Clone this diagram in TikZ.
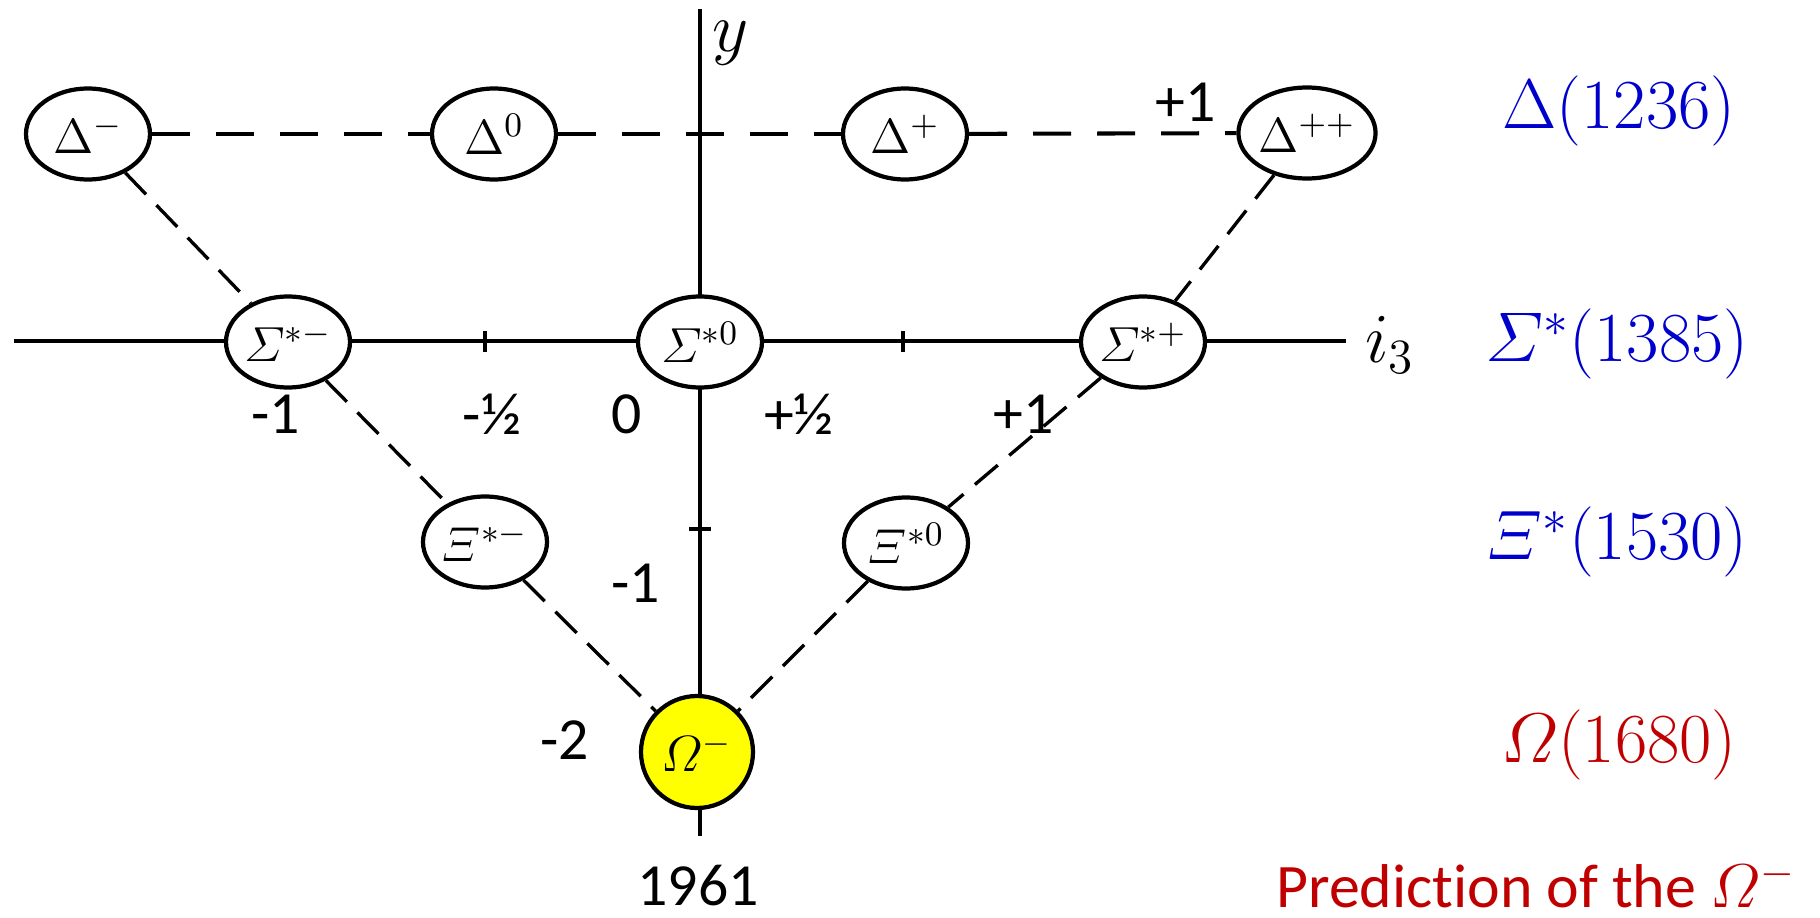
\RequirePackage{fix-cm}
\documentclass[tikz,border=0pt]{standalone}
\usepackage{amsmath}
\usepackage{fontspec}
\newfontfamily\calibri[Ligatures=NoCommon]{Carlito}
\usepackage{tikz}
\usetikzlibrary{
  shapes.geometric,
  backgrounds
}
\usepackage{xcolor}
\definecolor{cblue}{RGB}{0,0,204}
\definecolor{cred}{RGB}{192,0,0}
\definecolor{cyellow}{RGB}{255,255,0}
\tikzset{
  baryon/.style={
    ellipse, draw, fill=white, line width=1.2pt,
    minimum width=1.24cm, minimum height=0.91cm,
    inner sep=0pt, font=\fontsize{14}{16}\selectfont
  },
  omega/.style={
    circle, draw, fill=cyellow, line width=1.2pt,
    minimum size=1.12cm, inner sep=0pt,
    font=\fontsize{14.5}{16}\selectfont
  },
  axis/.style={line width=1.1pt},
  link/.style={line width=0.95pt, dash pattern=on 0.3cm off 0.15cm},
  linkH/.style={line width=1.15pt, dash pattern=on 0.38cm off 0.26cm},
  num/.style={font=\fontsize{17}{20}\selectfont\calibri, inner sep=0pt},
  mass/.style={font=\fontsize{20}{24}\selectfont, inner sep=0pt, text=#1},
  mass/.default=cblue
}

\begin{document}
\begin{tikzpicture}[x=1cm, y=-1cm]
  \useasboundingbox (0,0) rectangle (18.2,9.18);

    %% Decuplet states
    \node[baryon] (dm)  at (0.88,1.34)  {$\Delta^-$};
    \node[baryon] (d0)  at (4.94,1.34)  {$\Delta^0$};
    \node[baryon] (dp)  at (9.05,1.34)  {$\Delta^+$};
    \node[baryon] (dpp) at (13.07,1.33) {$\Delta^{++}$};
    \node[baryon] (sm)  at (2.88,3.42)  {$\varSigma^{*-}$};
    \node[baryon] (s0)  at (7.00,3.42)  {$\varSigma^{*0}$};
    \node[baryon] (sp)  at (11.43,3.42) {$\varSigma^{*+}$};
    \node[baryon] (xm)  at (4.85,5.42)  {$\varXi^{*-}$};
    \node[baryon] (x0)  at (9.06,5.43)  {$\varXi^{*0}$};
    \node[omega]  (om)  at (6.97,7.52)  {$\varOmega^-$};

    %% Axes (behind the states)
    \coordinate (xl) at (0.14,3.41);
    \coordinate (xr) at (13.46,3.41);
    \coordinate (yt) at (7.00,0.09);
    \coordinate (yb) at (7.00,8.36);
    \begin{scope}[on background layer]
      \draw[axis] (xl) -- (xr);
      \draw[axis] (yt) -- (yb);
      \foreach \x in {4.85,9.03}{
        \draw[axis] (\x,3.31) -- (\x,3.52);
      }
      \draw[axis] (6.89,5.29) -- (7.11,5.29);
    \end{scope}
    \node[font=\fontsize{20}{24}\selectfont] (ylab) at (7.31,0.43) {$y$};
    \node[font=\fontsize{20}{24}\selectfont] (ilab) at (13.90,3.45) {$i_3$};

    %% Axis numbers
    \foreach \x/\l/\n in {2.76/-1/a,4.92/-½/b,6.27/0/c,7.99/+½/d,10.24/+1/e}{
      \node[num] (t\n) at (\x,4.14) {\l};
    }
    \node[num] (ta) at (11.86,1.02) {+1};
    \node[num] (tm1) at (6.36,5.83) {-1};
    \node[num] (tm2) at (5.65,7.40) {-2};
    \node[num] (year) at (6.98,8.86) {1961};

    %% Multiplet links
    \draw[linkH] (dm) -- (d0);
    \draw[linkH] (d0) -- (dp);
    \draw[linkH] (dp) -- (dpp);
    \draw[link] (dm) -- (sm);
    \draw[link] (dpp) -- (sp);
    \draw[link] (sm) -- (xm);
    \draw[link] (sp) -- (x0);
    \draw[link] (xm) -- (om);
    \draw[link] (x0) -- (om);

    %% Masses
    \node[mass] (mD) at (16.19,1.11) {$\Delta(1236)$};
    \node[mass] (mS) at (16.17,3.44) {$\varSigma^*(1385)$};
    \node[mass] (mX) at (16.17,5.42) {$\varXi^*(1530)$};
    \node[mass=cred] (mO) at (16.19,7.45) {$\varOmega(1680)$};
    \node[num, font=\fontsize{17.6}{21}\selectfont\calibri, text=cred]
      (pred) at (15.36,8.84) {Prediction of the $\varOmega^-$};

\end{tikzpicture}
\end{document}
